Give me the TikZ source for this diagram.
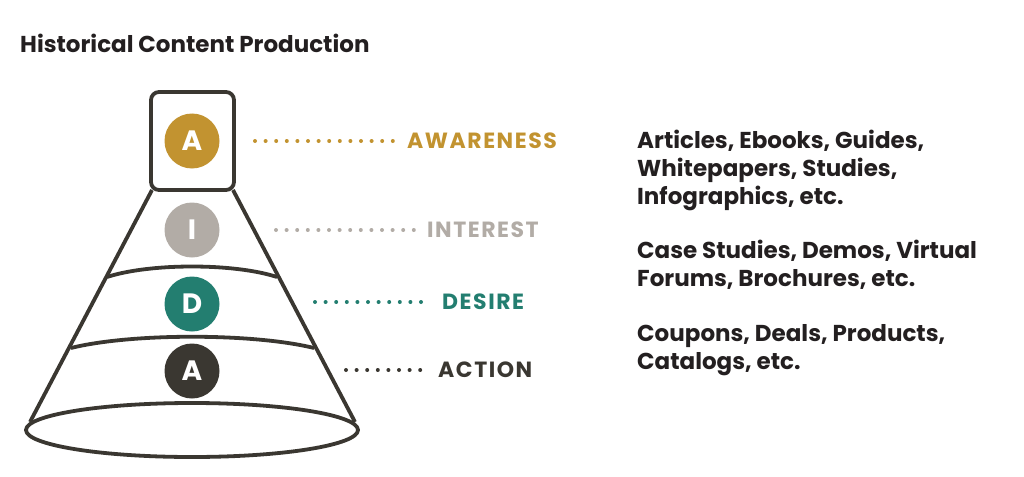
\documentclass[tikz,border=0pt]{standalone}
\usepackage{fontspec}
\setmainfont{Poppins}
\usetikzlibrary{positioning}
\definecolor{aidaGold}{HTML}{C29330}
\definecolor{aidaStone}{HTML}{B2ACA6}
\definecolor{aidaTeal}{HTML}{237E70}
\definecolor{aidaDark}{HTML}{3A3731}
\definecolor{ink}{HTML}{231F20}
\tikzset{
  funnel/.style={draw=aidaDark, line width=3.8pt, line join=round},
  badge/.style={circle, minimum size=55pt, inner sep=0pt, text=white, font=\bfseries\fontsize{28}{28}\selectfont},
  dots/.style={line width=4pt, line cap=round, dash pattern=on 0pt off 10.6pt, shorten >=13pt},
  lbl/.style={inner sep=0pt, font=\bfseries\fontsize{22}{22}\selectfont\addfontfeature{LetterSpace=7}},
  desc/.style={inner sep=0pt, align=left, anchor=base west, text=ink, font=\bfseries\fontsize{23}{28}\selectfont}
}

\begin{document}
\begin{tikzpicture}[x=1pt, y=-1pt]
    \useasboundingbox (0,0) rectangle (1024,476);
    \node[anchor=base west, inner sep=0pt, text=ink, font=\bfseries\fontsize{23}{23}\selectfont] (title) at (20,53) {Historical Content Production};

    % funnel
    \draw[funnel, rounded corners=8pt] (151,92) rectangle (234,190);
    \draw[funnel] (152,190) -- (30,422)
                  (233,190) -- (355,422);
    \draw[funnel] (107,277) .. controls (150,263) and (234,263) .. (277,277);
    \draw[funnel] (71,348) .. controls (131,333) and (253,333) .. (314,348);
    \draw[funnel] (192,430) ellipse [x radius=166, y radius=27];

    % stages
    \node[badge, fill=aidaGold] (bAw) at (192,141) {A};
    \node[badge, fill=aidaStone] (bIn) at (192,230) {I};
    \node[badge, fill=aidaTeal] (bDe) at (192,304) {D};
    \node[badge, fill=aidaDark] (bAc) at (192,371) {A};

    \coordinate (sAw) at (255,141);
    \coordinate (sIn) at (276,230);
    \coordinate (sDe) at (315,302);
    \coordinate (sAc) at (346,370);
    \node[lbl, text=aidaGold, right=152pt of sAw] (lAw) {AWARENESS};
    \node[lbl, text=aidaStone, right=151pt of sIn] (lIn) {INTEREST};
    \node[lbl, text=aidaTeal, right=127pt of sDe] (lDe) {DESIRE};
    \node[lbl, text=aidaDark, right=92pt of sAc] (lAc) {ACTION};
    \draw[dots, aidaGold] (sAw) -- (lAw);
    \draw[dots, aidaStone] (sIn) -- (lIn);
    \draw[dots, aidaTeal] (sDe) -- (lDe);
    \draw[dots, aidaDark] (sAc) -- (lAc);

    % content types
    \node[desc] (dAw) at (637,204) {Articles, Ebooks, Guides,\\Whitepapers, Studies,\\Infographics, etc.};
    \node[desc] (dDe) at (637,286) {Case Studies, Demos, Virtual\\Forums, Brochures, etc.};
    \node[desc] (dAc) at (637,369) {Coupons, Deals, Products,\\Catalogs, etc.};
\end{tikzpicture}
\end{document}
